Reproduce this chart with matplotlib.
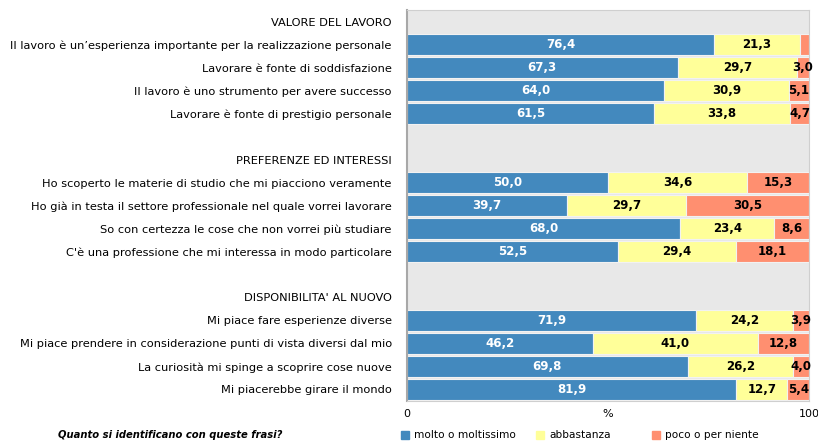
import matplotlib
matplotlib.use("Agg")
import matplotlib.pyplot as plt
from matplotlib.lines import Line2D

plt.rcParams['font.family'] = ['DejaVu Sans']

# row labels, top to bottom (headers and blank rows have no bar)
labels = [
    "VALORE DEL LAVORO",
    "Il lavoro è un’esperienza importante per la realizzazione personale",
    "Lavorare è fonte di soddisfazione",
    "Il lavoro è uno strumento per avere successo",
    "Lavorare è fonte di prestigio personale",
    "",
    "PREFERENZE ED INTERESSI",
    "Ho scoperto le materie di studio che mi piacciono veramente",
    "Ho già in testa il settore professionale nel quale vorrei lavorare",
    "So con certezza le cose che non vorrei più studiare",
    "C'è una professione che mi interessa in modo particolare",
    "",
    "DISPONIBILITA' AL NUOVO",
    "Mi piace fare esperienze diverse",
    "Mi piace prendere in considerazione punti di vista diversi dal mio",
    "La curiosità mi spinge a scoprire cose nuove",
    "Mi piacerebbe girare il mondo",
]
molto = [None, 76.4, 67.3, 64.0, 61.5, None, None, 50.0, 39.7, 68.0, 52.5, None, None, 71.9, 46.2, 69.8, 81.9]
abbastanza = [None, 21.3, 29.7, 30.9, 33.8, None, None, 34.6, 29.7, 23.4, 29.4, None, None, 24.2, 41.0, 26.2, 12.7]
poco = [None, 2.3, 3.0, 5.1, 4.7, None, None, 15.3, 30.5, 8.6, 18.1, None, None, 3.9, 12.8, 4.0, 5.4]

series = ["molto o moltissimo", "abbastanza", "poco o per niente"]
colors = ["#4389be", "#ffff99", "#ff8f70"]
txtcol = ["white", "black", "black"]

fig = plt.figure(figsize=(8.18, 4.41), dpi=100)
ax = fig.add_axes([0.4976, 0.091, 0.4914, 0.886])
ax.set_facecolor("#e8e8e8")

n = len(labels)
ys = list(range(n))
for i in range(n):
    if molto[i] is None:
        continue
    left = 0
    for vals, c, tc in zip([molto, abbastanza, poco], colors, txtcol):
        v = vals[i]
        ax.barh(i, v, left=left, height=0.9, color=c, edgecolor="#f2f2f2", linewidth=0.8)
        if v >= 2.5:
            ax.text(left + v / 2, i, f"{v:.1f}".replace(".", ","), ha="center", va="center",
                    color=tc, fontsize=8.5, fontweight="bold")
        left += v

ax.set_ylim(n - 0.5, -0.5)
ax.set_xlim(0, 100)
ax.set_yticks(ys)
ax.set_yticklabels(labels, fontsize=8.2)
ax.tick_params(axis="y", length=0, pad=11)
ax.set_xticks([0, 50, 100])
ax.set_xticklabels(["0", "%", "100"], fontsize=8)
ax.tick_params(axis="x", length=0, pad=6)
for s in ["top", "right", "bottom"]:
    ax.spines[s].set_color("#cfcfcf")
ax.spines["left"].set_color("#a8a8a8")
ax.spines["left"].set_linewidth(1.5)

# legend entries placed by hand, like the original
leg_x = [405, 540, 656]
leg_y = 1 - 435 / 441
for name, c, x in zip(series, colors, leg_x):
    fig.add_artist(Line2D([x / 818], [leg_y], marker="s", markersize=5.5, linestyle="none",
                          markerfacecolor=c, markeredgecolor=c, transform=fig.transFigure))
    fig.text((x + 9) / 818, leg_y, name, fontsize=7.6, va="center")
fig.text(58 / 818, leg_y, "Quanto si identificano con queste frasi?", fontsize=7.2,
         fontweight="bold", fontstyle="italic", va="center")

fig.savefig("out.png", dpi=100)
